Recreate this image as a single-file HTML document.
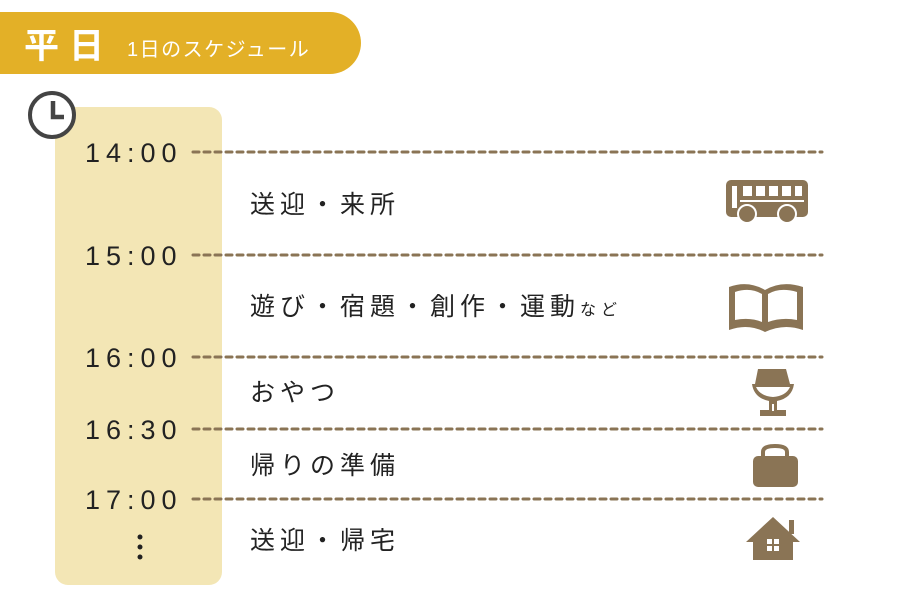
<!DOCTYPE html>
<html><head><meta charset="utf-8"><style>
body{margin:0;background:#fff;}
svg{display:block;}
text{font-family:"Liberation Sans","Noto Sans CJK JP",sans-serif;}
</style></head><body>
<svg width="900" height="600" viewBox="0 0 900 600" xmlns="http://www.w3.org/2000/svg">
<path d="M0 12 H330 A31 31 0 0 1 330 74 H0 Z" fill="#E3B027"/>
<text x="24" y="58" font-size="35" fill="#fff" font-weight="bold" letter-spacing="10">平日</text>
<text x="127" y="56" font-size="20" fill="#fff" letter-spacing="1.5">1日のスケジュール</text>
<rect x="55" y="107" width="167" height="478" rx="13" fill="#F3E6B5"/>
<circle cx="52" cy="115" r="22" fill="#fff" stroke="#444" stroke-width="4"/>
<path d="M53 101 V117 H64" fill="none" stroke="#444" stroke-width="4.5"/>
<g font-size="27" fill="#222" letter-spacing="6">
<text x="85" y="162">14:00</text>
<text x="85" y="265">15:00</text>
<text x="85" y="367">16:00</text>
<text x="85" y="439">16:30</text>
<text x="85" y="509">17:00</text>
</g>
<g stroke="#8a7455" stroke-width="3" stroke-dasharray="6 5" stroke-linecap="round">
<line x1="193" y1="152" x2="822" y2="152"/>
<line x1="193" y1="255" x2="822" y2="255"/>
<line x1="193" y1="357" x2="822" y2="357"/>
<line x1="193" y1="429" x2="822" y2="429"/>
<line x1="193" y1="499" x2="822" y2="499"/>
</g>
<g fill="#222"><circle cx="140" cy="537" r="2.5"/><circle cx="140" cy="547" r="2.5"/><circle cx="140" cy="557" r="2.5"/></g>
<g font-size="25" fill="#222" letter-spacing="5">
<text x="250" y="213">送迎・来所</text>
<text x="250" y="315">遊び・宿題・創作・運動<tspan font-size="16">など</tspan></text>
<text x="250" y="401">おやつ</text>
<text x="250" y="474">帰りの準備</text>
<text x="250" y="549">送迎・帰宅</text>
</g>
<g fill="#8a7455">
<rect x="726" y="180" width="82" height="37" rx="5"/>
<g fill="#fff"><rect x="743" y="186" width="9" height="10"/><rect x="756" y="186" width="9" height="10"/><rect x="769" y="186" width="9" height="10"/><rect x="782" y="186" width="9" height="10"/><rect x="795" y="186" width="7" height="10"/><rect x="732" y="186" width="5" height="22"/><rect x="740" y="200" width="64" height="2"/></g>
<circle cx="747" cy="214" r="9" stroke="#fff" stroke-width="2"/><circle cx="787" cy="214" r="9" stroke="#fff" stroke-width="2"/>
<path d="M729 287 Q748 280 765 290 Q782 280 803 287 V330 Q784 323 765 332 Q748 323 729 330 Z"/>
<path d="M735 292 Q750 287 762 294 V322 Q750 317 735 320 Z M768 294 Q780 287 797 292 V320 Q782 317 768 322 Z" fill="#fff"/>
<path d="M758 369 H786 L790 384 H794 Q792 398 777 401 V410 H786 V416 H760 V410 H769 V401 Q754 398 752 384 H755 Z"/>
<path d="M756 387 H790 Q786 396 773 397 Q760 396 756 387 Z M772 404 H774 V411 H772 Z" fill="#fff"/>
<path d="M763 457 V452 Q763 446 775 446 Q787 446 787 452 V457" fill="none" stroke="#8a7455" stroke-width="4"/>
<rect x="753" y="456" width="45" height="31" rx="5"/>
<path d="M746 542 L773 517 L800 542 H793 V560 H753 V542 Z"/>
<rect x="789" y="520" width="5" height="14"/>
<g fill="#fff"><rect x="767" y="539" width="5" height="5"/><rect x="774" y="539" width="5" height="5"/><rect x="767" y="546" width="5" height="5"/><rect x="774" y="546" width="5" height="5"/></g>
</g>
</svg>
</body></html>
